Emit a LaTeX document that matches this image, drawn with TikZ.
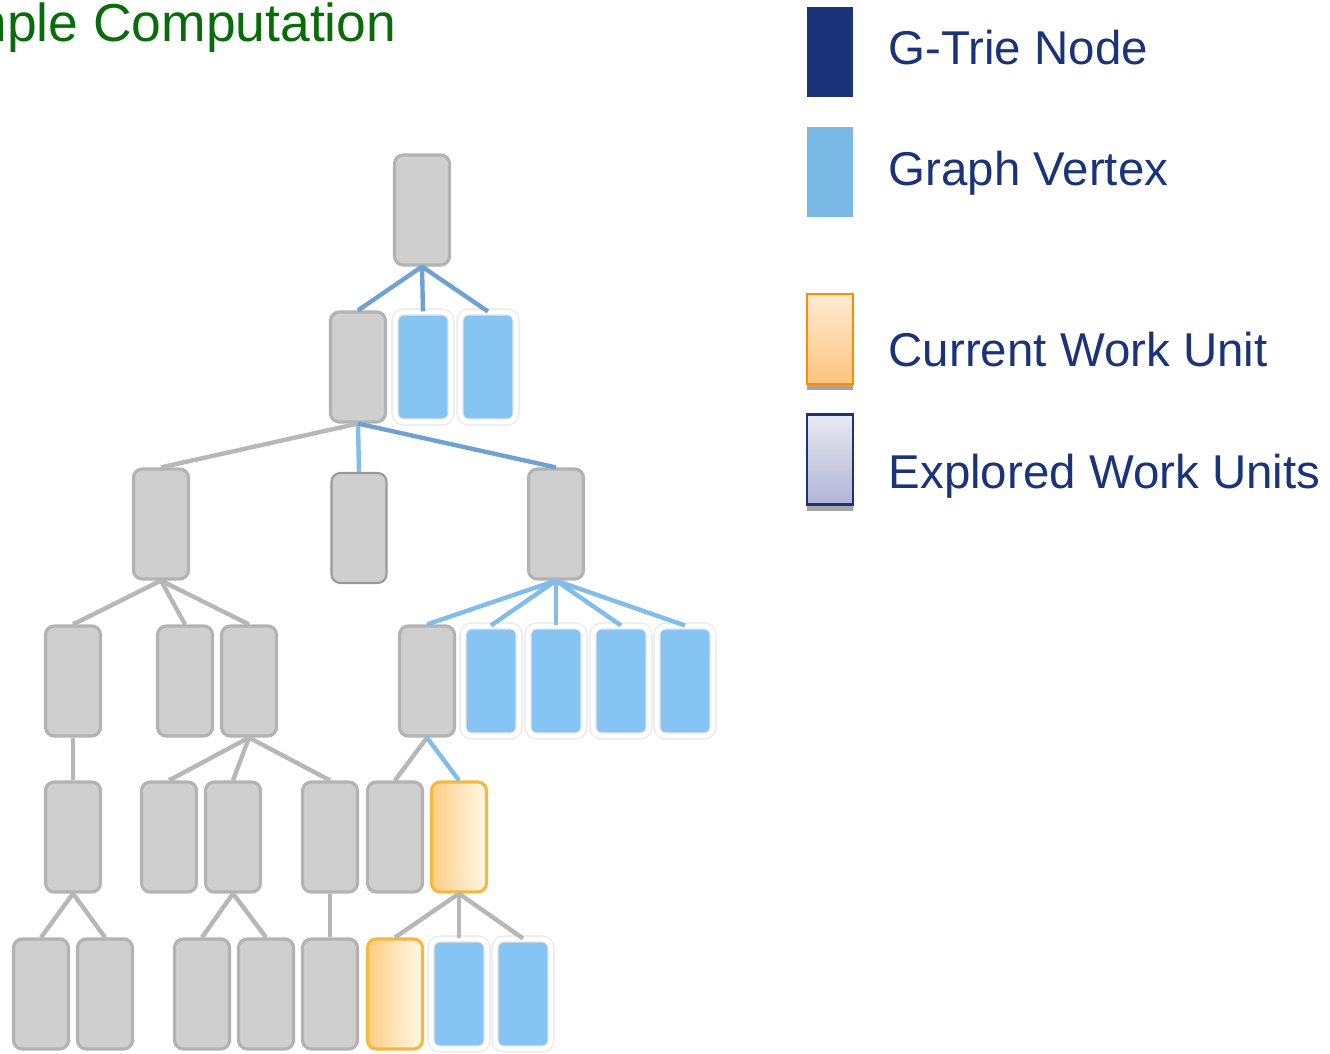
\documentclass[tikz,border=0pt]{standalone}
\usepackage{fontspec}
\setsansfont{Liberation Sans}
\definecolor{ctitle}{HTML}{0A6B0A}
\definecolor{cnavy}{HTML}{1B3479}
\definecolor{cnode}{HTML}{CFCFCF}
\definecolor{cnodeline}{HTML}{B3B3B3}
\definecolor{cvert}{HTML}{86C4F4}
\definecolor{ckeyvert}{HTML}{7AB8E6}
\definecolor{cedge}{HTML}{B7B7B7}
\definecolor{cedgeblue}{HTML}{6FA3CF}
\definecolor{cedgelight}{HTML}{80BDEB}
\definecolor{corangeline}{HTML}{F5B942}
\definecolor{corangedark}{HTML}{FDCE85}
\definecolor{corangelite}{HTML}{FFF8E6}
\definecolor{ckeycurtop}{HTML}{FFEBD2}
\definecolor{ckeycurbot}{HTML}{FCC47F}
\definecolor{ckeyexptop}{HTML}{E8E9F1}
\definecolor{ckeyexpbot}{HTML}{B1B5D5}
\tikzset{
  every picture/.style={font=\sffamily},
  trie/.style={draw=cnodeline, fill=cnode, line width=0.9pt, rounded corners=2.5pt, minimum width=0.55cm, minimum height=1.10cm, inner sep=0pt},
  vert/.style={draw=black!10, double=white, double distance=1.4pt, line width=0.3pt, fill=cvert, rounded corners=2.5pt, minimum width=0.56cm, minimum height=1.10cm, inner sep=0pt},
  work/.style={draw=corangeline, line width=0.9pt, left color=corangedark, right color=corangelite, rounded corners=2.5pt, minimum width=0.55cm, minimum height=1.10cm, inner sep=0pt},
  edge/.style={draw=#1, line width=1.25pt},
  edge/.default=cedge,
  key/.style={minimum width=0.46cm, minimum height=0.90cm, inner sep=0pt},
  keytext/.style={text=cnavy, anchor=base west, inner sep=0pt, font=\sffamily\fontsize{13.5}{16}\selectfont},
}
\begin{document}
\begin{tikzpicture}
  \useasboundingbox (0,0) rectangle (13.30,-10.54);
  \clip (0,0) rectangle (13.30,-10.54);
  % title
  \node[anchor=base east, text=ctitle, font=\sffamily\fontsize{15.2}{18}\selectfont, inner sep=0pt] (title) at (3.97,-0.42) {Example Computation};
  % level 0 and 1
  \node[trie] (t0) at (4.22,-2.10) {};
  \node[trie] (t1) at (3.58,-3.67) {};
  \node[vert] (v1a) at (4.23,-3.67) {};
  \node[vert] (v1b) at (4.88,-3.67) {};
  \draw[edge=cedgeblue] (t0.south) -- (t1.north);
  \draw[edge=cedgeblue] (t0.south) -- (v1a.north);
  \draw[edge=cedgeblue] (t0.south) -- (v1b.north);
  % level 2
  \node[trie] (t2a) at (1.61,-5.24) {};
  \node[trie, draw=black!40, line width=0.6pt] (t2b) at (3.59,-5.28) {};
  \node[trie] (t2c) at (5.56,-5.24) {};
  \draw[edge] (t1.south) -- (t2a.north);
  \draw[edge=cedgelight] (t1.south) -- (t2b.north);
  \draw[edge=cedgeblue] (t1.south) -- (t2c.north);
  % level 3
  \node[trie] (t3a) at (0.73,-6.81) {};
  \node[trie] (t3b) at (1.85,-6.81) {};
  \node[trie] (t3c) at (2.49,-6.81) {};
  \node[trie] (t3d) at (4.27,-6.81) {};
  \foreach \x/\n in {4.91/a, 5.56/b, 6.21/c, 6.85/d}
    \node[vert] (v3\n) at (\x,-6.81) {};
  \foreach \n in {t3a, t3b, t3c}
    \draw[edge] (t2a.south) -- (\n.north);
  \foreach \n in {t3d, v3a, v3b, v3c, v3d}
    \draw[edge=cedgelight] (t2c.south) -- (\n.north);
  % level 4
  \node[trie] (t4a) at (0.73,-8.37) {};
  \node[trie] (t4b) at (1.69,-8.37) {};
  \node[trie] (t4c) at (2.33,-8.37) {};
  \node[trie] (t4d) at (3.30,-8.37) {};
  \node[trie] (t4e) at (3.95,-8.37) {};
  \node[work] (cur4) at (4.59,-8.37) {};
  \draw[edge] (t3a.south) -- (t4a.north);
  \foreach \n in {t4b, t4c, t4d}
    \draw[edge] (t3c.south) -- (\n.north);
  \draw[edge] (t3d.south) -- (t4e.north);
  \draw[edge=cedgelight] (t3d.south) -- (cur4.north);
  % level 5
  \node[trie] (t5a) at (0.41,-9.94) {};
  \node[trie] (t5b) at (1.05,-9.94) {};
  \node[trie] (t5c) at (2.02,-9.94) {};
  \node[trie] (t5d) at (2.66,-9.94) {};
  \node[trie] (t5e) at (3.30,-9.94) {};
  \node[work] (cur5) at (3.95,-9.94) {};
  \node[vert] (v5a) at (4.59,-9.94) {};
  \node[vert] (v5b) at (5.23,-9.94) {};
  \draw[edge] (t4a.south) -- (t5a.north);
  \draw[edge] (t4a.south) -- (t5b.north);
  \draw[edge] (t4c.south) -- (t5c.north);
  \draw[edge] (t4c.south) -- (t5d.north);
  \draw[edge] (t4d.south) -- (t5e.north);
  \foreach \n in {cur5, v5a, v5b}
    \draw[edge] (cur4.south) -- (\n.north);
  % legend
  \node[key, fill=cnavy] (keytrie) at (8.30,-0.52) {};
  \node[key, fill=ckeyvert] (keyvert) at (8.30,-1.725) {};
  \fill[black!35] (8.07,-3.83) rectangle (8.53,-3.90);
  \node[key, draw=orange!90!yellow, line width=0.7pt, top color=ckeycurtop, bottom color=ckeycurbot] (keycur) at (8.30,-3.39) {};
  \fill[black!35] (8.07,-5.04) rectangle (8.53,-5.11);
  \node[key, draw=cnavy, line width=0.7pt, top color=ckeyexptop, bottom color=ckeyexpbot] (keyexp) at (8.30,-4.595) {};
  \node[keytext] (lbltrie) at (8.88,-0.645) {G-Trie Node};
  \node[keytext] (lblvert) at (8.88,-1.855) {Graph Vertex};
  \node[keytext] (lblcur) at (8.88,-3.67) {Current Work Unit};
  \node[keytext] (lblexp) at (8.88,-4.88) {Explored Work Units};
\end{tikzpicture}
\end{document}
